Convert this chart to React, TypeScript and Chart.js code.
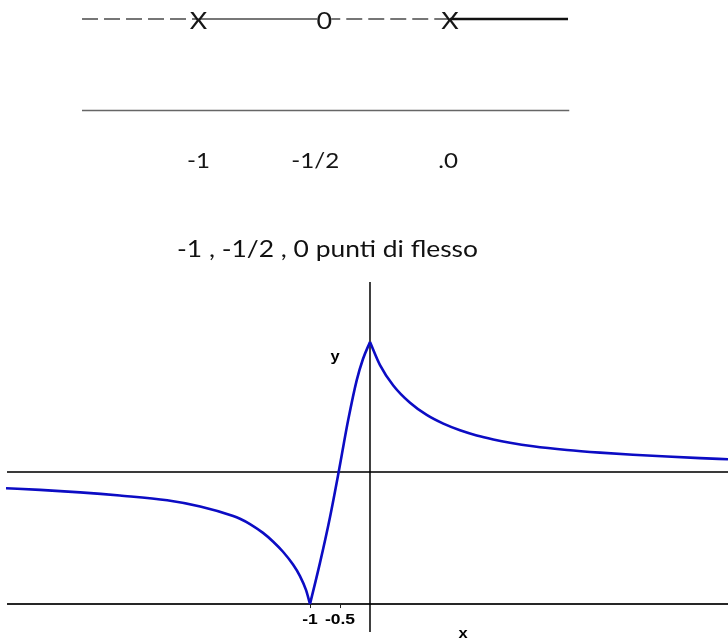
import { useEffect, useRef } from "react";
import { Chart, registerables } from "chart.js";

Chart.register(...registerables);

// ---- sign chart of f'' ----
const signBreaks = [-1, -0.5, 0];
const signGlyphs = ["X", "0", "X"];
const signSigns = ["-", "+", "-", "+"];
const signTickLabels = ["-1", "-1/2", ".0"];
const signStart = -1.463;
const signEnd = 0.469;
const caption = "-1 , -1/2 , 0 punti di flesso";

// ---- graph of f ----
const leftX = [-6.067, -5.5, -4.83, -4.17, -3.38, -2.83, -2.28, -2.167, -2.0, -1.783, -1.617, -1.45, -1.283, -1.167, -1.067, -1.0];
const leftY = [0.877, 0.865, 0.846, 0.822, 0.786, 0.739, 0.667, 0.646, 0.606, 0.539, 0.474, 0.396, 0.299, 0.212, 0.107, 0];
const midX = [-1.0, -0.833, -0.667, -0.533, -0.467, -0.362, -0.222, -0.117, 0];
const midY = [0, 0.314, 0.658, 0.974, 1.139, 1.397, 1.694, 1.856, 1.985];
const rightX = [0, 0.167, 0.388, 0.667, 0.945, 1.222, 1.5, 1.778, 2.055, 2.333, 2.717, 3.283, 3.833, 4.383, 4.95, 5.5, 5.967];
const rightY = [1.985, 1.81, 1.655, 1.524, 1.432, 1.366, 1.316, 1.277, 1.247, 1.222, 1.195, 1.167, 1.147, 1.131, 1.117, 1.105, 1.097];
const asymptoteY = 1;
const xTickValues = [-1, -0.5];
const xTickLabels = ["-1", "-0.5"];
const xRange = [-6.167, 5.967];
const yRange = [-0.295, 2.53];

const pts = (xs: number[], ys: number[]) => xs.map((x, i) => ({ x, y: ys[i] }));

function drawStretched(ctx: CanvasRenderingContext2D, text: string, x: number, y: number, sx: number, align: "left" | "center") {
  const w = ctx.measureText(text).width * sx;
  const left = align === "center" ? x - w / 2 : x;
  ctx.save();
  ctx.translate(left, y);
  ctx.scale(sx, 1);
  ctx.textAlign = "left";
  ctx.fillText(text, 0, 0);
  ctx.restore();
}

function SignChart() {
  const ref = useRef<HTMLCanvasElement | null>(null);
  useEffect(() => {
    if (!ref.current) return;
    const bounds = [signStart, ...signBreaks, signEnd];
    const segs = signSigns.map((s, i) => ({
      type: "line" as const,
      data: [{ x: bounds[i], y: 1 }, { x: bounds[i + 1], y: 1 }],
      borderColor: i === signSigns.length - 1 ? "#111" : "#4a4a4a",
      borderWidth: i === signSigns.length - 1 ? 2.4 : 1.4,
      borderDash: s === "-" ? [16, 6] : [],
      pointRadius: 0,
    }));
    const axisRow = {
      type: "line" as const,
      data: [{ x: signStart, y: 0 }, { x: signEnd + 0.005, y: 0 }],
      borderColor: "#666",
      borderWidth: 1.6,
      pointRadius: 0,
    };
    const labels = {
      id: "signLabels",
      afterDatasetsDraw(chart: any) {
        const ctx = chart.ctx as CanvasRenderingContext2D;
        const xs = chart.scales.x;
        const ys = chart.scales.y;
        const rowPx = ys.getPixelForValue(1);
        const axisPx = ys.getPixelForValue(0);
        ctx.save();
        ctx.fillStyle = "#161616";
        ctx.textBaseline = "alphabetic";
        ctx.font = "24px Lato";
        signBreaks.forEach((b, i) => {
          const px = xs.getPixelForValue(b);
          if (signGlyphs[i] === "0") {
            ctx.fillStyle = "#fff";
            ctx.fillRect(px - 7, rowPx - 9, 14, 18);
            ctx.fillStyle = "#161616";
          }
          drawStretched(ctx, signGlyphs[i], px, rowPx + 9.5, 1.12, "center");
        });
        ctx.font = "21px Lato";
        const shift = [0, -9, -2];
        signBreaks.forEach((b, i) => {
          const px = xs.getPixelForValue(b) + shift[i];
          drawStretched(ctx, signTickLabels[i], px, axisPx + 57.5, 1.15, "center");
        });
        ctx.font = "24px Lato";
        ctx.fillStyle = "#111";
        const w = ctx.measureText(caption).width;
        drawStretched(ctx, caption, 177, axisPx + 146.5, 301 / w, "left");
        ctx.restore();
      },
    };
    const chart = new Chart(ref.current, {
      type: "line",
      data: { datasets: [...segs, axisRow] as any },
      options: {
        animation: false,
        responsive: false,
        devicePixelRatio: 1,
        events: [],
        layout: { padding: 0 },
        plugins: { legend: { display: false }, tooltip: { enabled: false }, title: { display: false } },
        scales: {
          x: { type: "linear", min: -1.789, max: 1.105, display: false },
          y: { type: "linear", min: -1.743, max: 1.2077, display: false },
        },
      },
      plugins: [labels],
    });
    return () => chart.destroy();
  }, []);
  return <canvas ref={ref} width={728} height={270} style={{ position: "absolute", left: 0, top: 0, display: "block" }} />;
}

function GraphChart() {
  const ref = useRef<HTMLCanvasElement | null>(null);
  useEffect(() => {
    if (!ref.current) return;
    const curve = (xs: number[], ys: number[]) => ({
      data: pts(xs, ys),
      borderColor: "#0c0cc4",
      borderWidth: 2.6,
      pointRadius: 0,
      cubicInterpolationMode: "monotone" as const,
    });
    const flat = (data: { x: number; y: number }[], color: string, width: number) => ({
      data,
      borderColor: color,
      borderWidth: width,
      pointRadius: 0,
    });
    const lineStart = -6.05;
    const annotate = {
      id: "axisText",
      afterDatasetsDraw(chart: any) {
        const ctx = chart.ctx as CanvasRenderingContext2D;
        const xs = chart.scales.x;
        const ys = chart.scales.y;
        const y0 = ys.getPixelForValue(0);
        ctx.save();
        ctx.fillStyle = "#000";
        ctx.strokeStyle = "#222";
        ctx.lineWidth = 1;
        ctx.font = "bold 14px 'Liberation Sans', Arial";
        ctx.textBaseline = "alphabetic";
        xTickValues.forEach((v, i) => {
          const px = xs.getPixelForValue(v);
          ctx.beginPath();
          ctx.moveTo(px + 0.5, y0);
          ctx.lineTo(px + 0.5, y0 + 4);
          ctx.stroke();
          drawStretched(ctx, xTickLabels[i], px, y0 + 20, 1.25, "center");
        });
        ctx.font = "bold 15px 'Liberation Sans', Arial";
        drawStretched(ctx, "y", xs.getPixelForValue(-0.58), ys.getPixelForValue(1.84), 1.1, "center");
        drawStretched(ctx, "x", xs.getPixelForValue(1.55), ys.getPixelForValue(-0.26), 1.1, "center");
        ctx.restore();
      },
    };
    const chart = new Chart(ref.current, {
      type: "line",
      data: {
        datasets: [
          curve(leftX, leftY),
          curve(midX, midY),
          curve(rightX, rightY),
          flat([{ x: 0, y: -0.212 }, { x: 0, y: 2.439 }], "#000", 1.5),
          flat([{ x: lineStart, y: asymptoteY }, { x: xRange[1], y: asymptoteY }], "#3a3a3a", 2),
          flat([{ x: lineStart, y: 0 }, { x: xRange[1], y: 0 }], "#262626", 2),
        ] as any,
      },
      options: {
        animation: false,
        responsive: false,
        devicePixelRatio: 1,
        events: [],
        layout: { padding: 0 },
        plugins: { legend: { display: false }, tooltip: { enabled: false } },
        scales: {
          x: { type: "linear", min: xRange[0], max: xRange[1], display: false },
          y: { type: "linear", min: yRange[0], max: yRange[1], display: false },
        },
      },
      plugins: [annotate],
    });
    return () => chart.destroy();
  }, []);
  return <canvas ref={ref} width={728} height={373} style={{ position: "absolute", left: 0, top: 270, display: "block" }} />;
}

export default function App() {
  return (
    <div style={{ position: "absolute", left: 0, top: 0, width: 728, height: 643, background: "#fff", overflow: "hidden" }}>
      <SignChart />
      <GraphChart />
    </div>
  );
}
